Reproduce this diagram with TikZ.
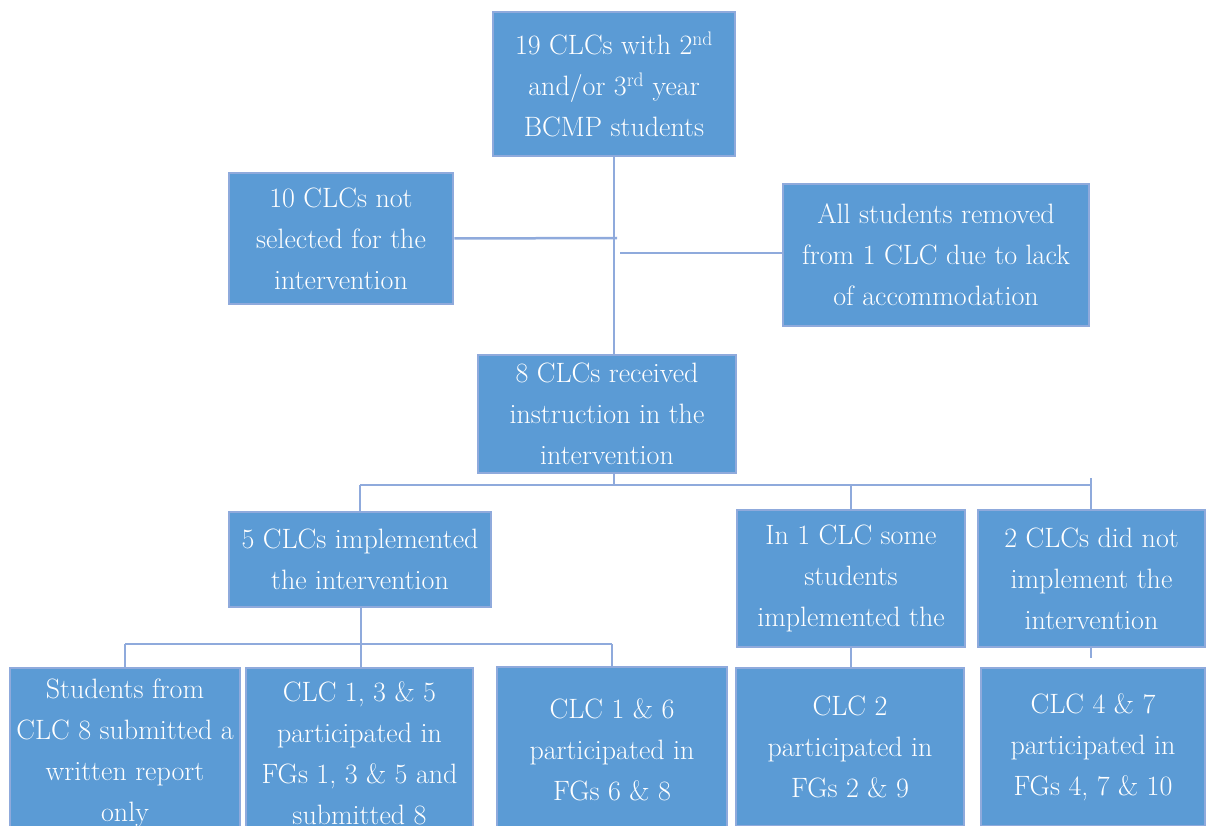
\documentclass[tikz,border=0pt]{standalone}
\definecolor{boxfill}{HTML}{5B9BD5}
\definecolor{boxline}{HTML}{8FAADC}

\begin{document}
\begin{tikzpicture}[x=1pt, y=-1pt,
    box/.style={draw=boxline, line width=2.5pt, fill=boxfill, text=white, align=center, inner sep=0pt,
      font=\fontsize{28}{41}\selectfont},
    link/.style={draw=boxline, line width=2.5pt}]
            \useasboundingbox (0,0) rectangle (1206,826);
            \clip (0,0) rectangle (1206,826);
            \node[box, minimum width=242, minimum height=144] (all) at (614,84) {19 CLCs with 2\textsuperscript{nd}\\and/or 3\textsuperscript{rd} year\\BCMP students};
            \node[box, minimum width=224, minimum height=131] (notsel) at (341,238.5) {10 CLCs not\\selected for the\\intervention};
            \node[box, minimum width=306, minimum height=142] (removed) at (936,255) {All students removed\\from 1 CLC due to lack\\of accommodation};
            \node[box, minimum width=258, minimum height=118] (recv) at (607,414) {8 CLCs received\\instruction in the\\intervention};
            \node[box, minimum width=262, minimum height=95] (impl) at (360,559.5) {5 CLCs implemented\\the intervention};
            \node[box, minimum width=228, minimum height=137] (some) at (851,578.5) {In 1 CLC some\\students\\implemented the};
            \node[box, minimum width=227, minimum height=137] (notimpl) at (1091.5,578.5) {2 CLCs did not\\implement the\\intervention};
            \node[box, minimum width=230, minimum height=170] (rep) at (125,753) {Students from\\CLC 8 submitted a\\written report\\only};
            \node[box, minimum width=227, minimum height=170] (fga) at (359.5,753) {CLC 1, 3 \& 5\\participated in\\FGs 1, 3 \& 5 and\\submitted 8};
            \node[box, minimum width=230, minimum height=166] (fgb) at (612,750) {CLC 1 \& 6\\participated in\\FGs 6 \& 8};
            \node[box, minimum width=228, minimum height=158] (fgc) at (850,747) {CLC 2\\participated in\\FGs 2 \& 9};
            \node[box, minimum width=224, minimum height=158] (fgd) at (1093,747) {CLC 4 \& 7\\participated in\\FGs 4, 7 \& 10};
            \coordinate (j1) at (617,238);
            \coordinate (j2) at (620,253);
            \coordinate (b1) at (614,485);
            \coordinate (b2) at (361,644);
            \coordinate (t1) at (1091,478);
            \coordinate (t2) at (1091,658);
            \draw[link] (all.south -| b1) -- (b1 |- recv.north);
            \draw[link] (notsel.east) -- (j1);
            \draw[link] (removed.west |- j2) -- (j2);
            \draw[link] (b1 |- recv.south) -- (b1);
            \draw[link] (b1 -| impl.north) -- (t1 |- b1);
            \draw[link] (b1 -| impl.north) -- (impl.north);
            \draw[link] (b1 -| some.north) -- (some.north);
            \draw[link] (t1) -- (t1 |- notimpl.north);
            \draw[link] (impl.south -| b2) -- (b2);
            \draw[link] (b2 -| rep.north) -- (b2 -| fgb.north);
            \draw[link] (b2 -| rep.north) -- (rep.north);
            \draw[link] (b2) -- (b2 |- fga.north);
            \draw[link] (b2 -| fgb.north) -- (fgb.north);
            \draw[link] (some.south) -- (some.south |- fgc.north);
            \draw[link] (t2 |- notimpl.south) -- (t2);
        \end{tikzpicture}
\end{document}
